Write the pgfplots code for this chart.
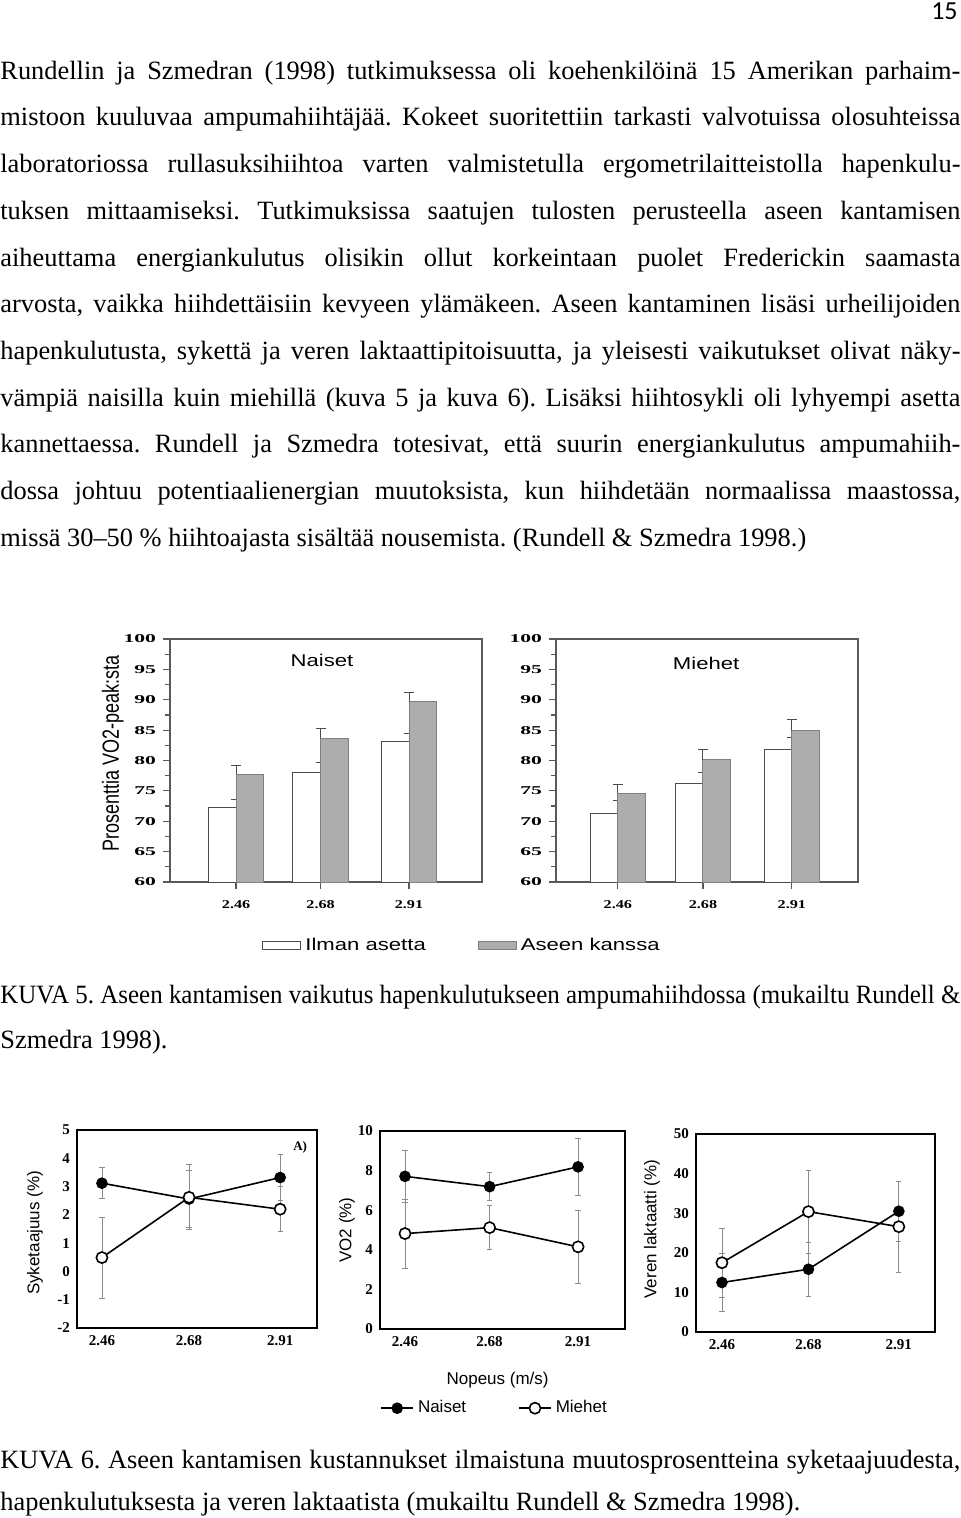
\documentclass[border=0pt]{standalone}
\usepackage{fontspec}
\setmainfont{Liberation Serif}
\newfontfamily\arial{Liberation Sans}
\newfontfamily\carlito{Carlito}
\usepackage{graphicx}
\usepackage{pgfplots}
\pgfplotsset{compat=1.18}
\frenchspacing

\newcommand{\sx}[1]{\scalebox{1.3}[1]{#1}}
\newcommand{\ty}[1]{\scalebox{1.8}[1]{#1}}
\newcommand{\tx}[1]{\scalebox{1.35}[1]{#1}}
\newcommand{\body}{\fontsize{13.2}{16}\selectfont\frenchspacing}
\newsavebox\lb
\newcommand{\fitline}[1]{\sbox\lb{#1}\ifdim\wd\lb>480pt \resizebox{480pt}{\ht\lb}{\usebox\lb}\else\makebox[480pt][s]{#1}\fi}
\newcommand{\jline}[2]{\node[anchor=base west, inner sep=0pt] at (0,#1) {\body\fitline{#2}};}
\newcommand{\pline}[2]{\node[anchor=base west, inner sep=0pt] at (0,#1) {\body #2};}

\pgfplotsset{
  fig1/.style={
    scale only axis, height=121.5pt,
    ymin=60, ymax=100,
    ytick={60,65,...,100}, minor ytick={62.5,67.5,...,97.5},
    xtick={2.46,2.68,2.91},
    xticklabels={\tx{2.46},\tx{2.68},\tx{2.91}},
    yticklabel={\ty{\pgfmathprintnumber{\tick}}},
    /pgf/number format/assume math mode=true,
    tick label style={font=\fontsize{6}{7}\selectfont\bfseries},
    xticklabel style={yshift=-2pt},
    tick align=outside, tick pos=left,
    major tick length=3.5pt, minor tick length=2.5pt,
    axis line style={black!65, line width=0.9pt},
    every tick/.style={black!65, line width=0.6pt},
  },
  wbar/.style={ybar, bar width=0.072, bar shift=-0.036, fill=white, draw=black!70, line width=0.5pt,
    legend image code/.code={\draw[##1] (0pt,-2pt) rectangle (19pt,2pt);},
    error bars/.cd, y dir=plus, y explicit,
    error bar style={black!70, line width=0.5pt},
    error mark options={black!70, mark size=2.5pt, rotate=90, line width=0.5pt}},
  gbar/.style={ybar, bar width=0.072, bar shift=0.036, fill=black!32, draw=black!50, line width=0.5pt,
    legend image code/.code={\draw[##1] (0pt,-2pt) rectangle (19pt,2pt);},
    error bars/.cd, y dir=plus, y explicit,
    error bar style={black!70, line width=0.5pt},
    error mark options={black!70, mark size=2.5pt, rotate=90, line width=0.5pt}},
  fig2/.style={
    scale only axis, height=99pt,
    xtick={2.46,2.68,2.91}, xticklabels={2.46,2.68,2.91},
    /pgf/number format/assume math mode=true,
    tick label style={font=\fontsize{7.5}{8}\selectfont\bfseries},
    xtick style={draw=none}, ytick style={draw=none},
    axis line style={black, line width=0.8pt},
    label style={font=\arial\fontsize{8.5}{10}\selectfont},
  },
  nplot/.style={black, line width=0.8pt, mark=*, mark size=2.5pt, mark options={fill=black, draw=black, solid},
    legend image code/.code={\draw[mark repeat=2,mark phase=2,##1] plot coordinates {(0pt,0pt) (8pt,0pt) (16pt,0pt)};},
    error bars/.cd, y dir=both, y explicit,
    error bar style={black!45, line width=0.4pt},
    error mark options={black!45, mark size=1.3pt, rotate=90, line width=0.4pt}},
  mplot/.style={black, line width=0.8pt, mark=*, mark size=2.8pt, mark options={fill=white, draw=black, solid},
    legend image code/.code={\draw[mark repeat=2,mark phase=2,##1] plot coordinates {(0pt,0pt) (8pt,0pt) (16pt,0pt)};},
    error bars/.cd, y dir=both, y explicit,
    error bar style={black!45, line width=0.4pt},
    error mark options={black!45, mark size=1.3pt, rotate=90, line width=0.4pt}},
}

\begin{document}
\begin{tikzpicture}
\begin{scope}[x=0.5pt, y=-0.5pt]
\fill[white] (0,0) rectangle (960,1518);
\path[use as bounding box] (0,0) rectangle (960,1518);
\node[anchor=base east, inner sep=0pt, font=\carlito\fontsize{13}{13}\selectfont] at (958,20) {15};
\jline{79.3}{Rundellin ja Szmedran (1998) tutkimuksessa oli koehenkilöinä 15 Amerikan parhaim-}
\jline{126}{mistoon kuuluvaa ampumahiihtäjää. Kokeet suoritettiin tarkasti valvotuissa olosuhteissa}
\jline{172.7}{laboratoriossa rullasuksihiihtoa varten valmistetulla ergometrilaitteistolla hapenkulu-}
\jline{219.4}{tuksen mittaamiseksi. Tutkimuksissa saatujen tulosten perusteella aseen kantamisen}
\jline{266.1}{aiheuttama energiankulutus olisikin ollut korkeintaan puolet Frederickin saamasta}
\jline{312.8}{arvosta, vaikka hiihdettäisiin kevyeen ylämäkeen. Aseen kantaminen lisäsi urheilijoiden}
\jline{359.5}{hapenkulutusta, sykettä ja veren laktaattipitoisuutta, ja yleisesti vaikutukset olivat näky-}
\jline{406.2}{vämpiä naisilla kuin miehillä (kuva 5 ja kuva 6). Lisäksi hiihtosykli oli lyhyempi asetta}
\jline{452.9}{kannettaessa. Rundell ja Szmedra totesivat, että suurin energiankulutus ampumahiih-}
\jline{499.6}{dossa johtuu potentiaalienergian muutoksista, kun hiihdetään normaalissa maastossa,}
\pline{546.3}{missä 30–50 \% hiihtoajasta sisältää nousemista. (Rundell \& Szmedra 1998.)}
\jline{1003}{KUVA 5. Aseen kantamisen vaikutus hapenkulutukseen ampumahiihdossa (mukailtu Rundell \&}
\pline{1048}{Szmedra 1998).}
\jline{1468}{KUVA 6. Aseen kantamisen kustannukset ilmaistuna muutosprosentteina syketaajuudesta,}
\pline{1510}{hapenkulutuksesta ja veren laktaatista (mukailtu Rundell \& Szmedra 1998).}
\end{scope}

% ---------- KUVA 5, Naiset ----------
\begin{axis}[fig1, width=156pt,
  at={(85pt,-441pt)}, anchor=south west,
  xmin=2.288, xmax=3.100,
  ylabel={\arial\fontsize{9}{10}\selectfont\scalebox{1}[1.3]{Prosenttia VO2-peak:sta}},
  ylabel style={at={(axis description cs:-0.183,0.53)}, anchor=center},
  legend style={at={(axis description cs:0.295,-0.262)}, anchor=west, draw=none, fill=none,
    inner sep=0pt, legend columns=2, font=\arial\fontsize{8.5}{10}\selectfont,
    /tikz/every even column/.append style={column sep=24pt}},
]
\addplot[wbar] coordinates {(2.46,72.2) +- (0,1.4) (2.68,78.1) +- (0,1.5) (2.91,83.2) +- (0,1.3)};
\addplot[gbar] coordinates {(2.46,77.7) +- (0,1.5) (2.68,83.7) +- (0,1.5) (2.91,89.7) +- (0,1.5)};
\legend{\sx{Ilman asetta},\sx{Aseen kanssa}}
\node[font=\arial\fontsize{8.5}{10}\selectfont] at (axis description cs:0.487,0.91) {\sx{Naiset}};
\end{axis}

% ---------- KUVA 5, Miehet ----------
\begin{axis}[fig1, width=151pt,
  at={(278pt,-441pt)}, anchor=south west,
  xmin=2.300, xmax=3.081,
]
\addplot[wbar] coordinates {(2.46,71.3) +- (0,2.1) (2.68,76.2) +- (0,1.8) (2.91,81.8) +- (0,2.0)};
\addplot[gbar] coordinates {(2.46,74.6) +- (0,1.5) (2.68,80.1) +- (0,1.7) (2.91,84.9) +- (0,1.8)};
\node[font=\arial\fontsize{8.5}{10}\selectfont] at (axis description cs:0.497,0.90) {\sx{Miehet}};
\node[font=\arial\fontsize{8.5}{10}\selectfont] at (axis description cs:-0.142,-0.156) {\sx{Nopeus (m/s)}};
\end{axis}

% ---------- KUVA 6, A ----------
\begin{axis}[fig2, width=120pt,
  at={(38.5pt,-664pt)}, anchor=south west,
  xmin=2.397, xmax=3.003, ymin=-2, ymax=5, ytick={-2,-1,...,5},
  ylabel={Syketaajuus (\%)},
  ylabel style={at={(axis description cs:-0.175,0.48)}, anchor=center},
]
\addplot[nplot] coordinates {(2.46,3.12) +- (0,0.55) (2.68,2.56) +- (0,1.0) (2.91,3.32) +- (0,0.8)};
\addplot[mplot] coordinates {(2.46,0.49) +- (0,1.43) (2.68,2.62) +- (0,1.15) (2.91,2.2) +- (0,0.8)};
\node[font=\fontsize{6.5}{7}\selectfont\bfseries] at (axis description cs:0.93,0.91) {A)};
\end{axis}

% ---------- KUVA 6, VO2 ----------
\begin{axis}[fig2, width=122.5pt,
  at={(190pt,-664.5pt)}, anchor=south west,
  xmin=2.395, xmax=3.032, ymin=0, ymax=10, ytick={0,2,...,10},
  ylabel={VO2 (\%)},
  ylabel style={at={(axis description cs:-0.135,0.5)}, anchor=center},
  xlabel={Nopeus (m/s)},
  xlabel style={at={(axis description cs:0.48,-0.258)}, anchor=center},
  legend style={at={(axis description cs:0,-0.40)}, anchor=west, draw=none, fill=none,
    inner sep=0pt, legend columns=2, font=\arial\fontsize{8.5}{10}\selectfont,
    /tikz/every even column/.append style={column sep=24pt}},
]
\addplot[nplot] coordinates {(2.46,7.71) +- (0,1.32) (2.68,7.19) +- (0,0.7) (2.91,8.19) +- (0,1.45)};
\addplot[mplot] coordinates {(2.46,4.82) +- (0,1.75) (2.68,5.12) +- (0,1.1) (2.91,4.15) +- (0,1.85)};
\legend{Naiset,Miehet}
\end{axis}

% ---------- KUVA 6, laktaatti ----------
\begin{axis}[fig2, width=119.5pt,
  at={(348pt,-666pt)}, anchor=south west,
  xmin=2.394, xmax=3.002, ymin=0, ymax=50, ytick={0,10,...,50},
  ylabel={Veren laktaatti (\%)},
  ylabel style={at={(axis description cs:-0.184,0.52)}, anchor=center},
]
\addplot[nplot] coordinates {(2.46,12.5) +- (0,7.3) (2.68,15.85) +- (0,6.8) (2.91,30.5) +- (0,7.6)};
\addplot[mplot] coordinates {(2.46,17.5) +- (0,8.7) (2.68,30.4) +- (0,10.5) (2.91,26.6) +- (0,11.5)};
\end{axis}
\end{tikzpicture}
\end{document}
